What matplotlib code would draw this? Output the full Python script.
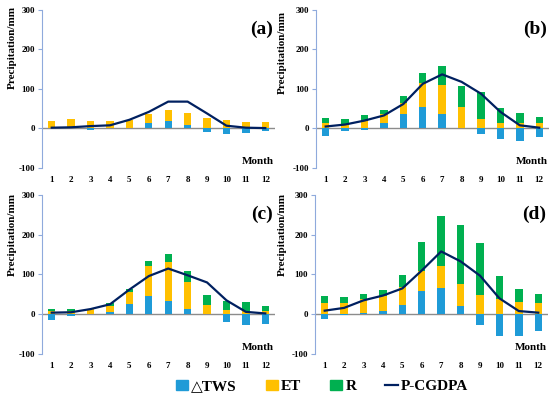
import numpy as np
import matplotlib
matplotlib.use('Agg')
from matplotlib import pyplot as plt
from matplotlib.patches import Patch
from matplotlib.lines import Line2D

plt.rcParams['font.family'] = ['Liberation Serif', 'DejaVu Serif']
plt.rcParams['font.weight'] = 'bold'
plt.rcParams['axes.unicode_minus'] = False

months = np.arange(1, 13)
month_labels = [str(m) for m in months]
panels = ['(a)', '(b)', '(c)', '(d)']

# delta TWS, ET, R and P-CGDPA for each panel
tws_a = [1, 0, -3, 0, 1, 15, 18, 10, -9, -14, -11, -7]
et_a = [19, 25, 19, 18, 20, 22, 28, 29, 27, 22, 17, 17]
r_a = [0, 0, 0, 0, 0, 0, 0, 0, 0, 0, 0, 0]
p_a = [2, 3, 6, 8, 22, 42, 68, 68, 38, 7, 2, 1]

tws_b = [-19, -7, -3, 13, 37, 55, 37, 2, -15, -26, -31, -22]
et_b = [14, 12, 18, 24, 28, 59, 73, 52, 23, 15, 15, 14]
r_b = [13, 13, 15, 10, 16, 27, 47, 53, 70, 38, 24, 15]
p_b = [5, 10, 20, 33, 62, 113, 137, 118, 88, 42, 8, 2]

tws_c = [-15, -5, 0, 5, 26, 47, 34, 12, 1, -20, -27, -24]
et_c = [9, 7, 12, 16, 29, 75, 97, 68, 21, 11, 9, 9]
r_c = [5, 5, 2, 8, 9, 11, 20, 30, 26, 22, 22, 11]
p_c = [4, 5, 13, 25, 62, 96, 115, 98, 80, 35, 6, 2]

tws_d = [-13, -3, 2, 9, 24, 59, 65, 20, -26, -55, -54, -43]
et_d = [28, 29, 36, 36, 45, 49, 57, 57, 48, 39, 32, 28]
r_d = [17, 15, 13, 16, 30, 74, 126, 148, 131, 57, 32, 23]
p_d = [9, 16, 35, 47, 65, 110, 158, 133, 97, 40, 8, 4]

data = [(tws_a, et_a, r_a, p_a), (tws_b, et_b, r_b, p_b),
        (tws_c, et_c, r_c, p_c), (tws_d, et_d, r_d, p_d)]

c_tws = '#1f9bd7'
c_et = '#ffc000'
c_r = '#00b050'
c_p = '#002060'

fig = plt.figure(figsize=(5.5, 3.99), dpi=100)
boxes = [[0.0764, 0.579, 0.4236, 0.396], [0.5745, 0.579, 0.4236, 0.396],
         [0.0764, 0.1128, 0.4236, 0.3985], [0.5727, 0.1128, 0.4236, 0.3985]]
label_pos = [(-0.11, 0.76), (-0.125, 0.73), (-0.11, 0.75), (-0.12, 0.75)]

w = 0.38
for k, (tws, et, r, p) in enumerate(data):
    ax = fig.add_axes(boxes[k])
    tws = np.array(tws, float)
    et = np.array(et, float)
    r = np.array(r, float)
    base = np.clip(tws, 0, None)
    ax.bar(months, tws, w, color=c_tws, zorder=2)
    ax.bar(months, et, w, bottom=base, color=c_et, zorder=2)
    ax.bar(months, r, w, bottom=base + et, color=c_r, zorder=2)
    ax.axhline(0, color='#8c8c8c', lw=1, zorder=1)
    ax.plot(months, p, color=c_p, lw=1.6, zorder=3)
    ax.set_xlim(0.5, 12.5)
    ax.set_ylim(-100, 300)
    ax.set_yticks([-100, 0, 100, 200, 300])
    ax.set_xticks(months)
    ax.set_xticklabels(month_labels)
    for s in ['top', 'right', 'bottom']:
        ax.spines[s].set_visible(False)
    ax.spines['left'].set_color('#8faadc')
    ax.tick_params(axis='y', length=3, color='#8faadc', labelsize=6.5, pad=2)
    ax.tick_params(axis='x', length=0, labelsize=6.5, pad=6)
    ax.set_ylabel('Precipitation/mm', fontsize=8, fontweight='bold')
    ax.yaxis.set_label_coords(*label_pos[k])
    ax.text(0.99, 0.93, panels[k], transform=ax.transAxes, ha='right', va='top',
            fontsize=14, fontweight='bold')
    ax.text(0.995, 0.015, 'Month', transform=ax.transAxes, ha='right', va='bottom',
            fontsize=8, fontweight='bold')
    ax.patch.set_visible(False)

handles = [Patch(color=c_tws, label='△TWS'), Patch(color=c_et, label='ET'),
           Patch(color=c_r, label='R'), Line2D([], [], color=c_p, lw=1.6, label='P-CGDPA')]
fig.legend(handles=handles, loc='lower center', bbox_to_anchor=(0.585, -0.02), ncol=4,
           frameon=False, prop={'size': 11, 'weight': 'bold'},
           handlelength=0.8, handleheight=0.7, handletextpad=0.2, columnspacing=1.9)

fig.savefig('out.png', dpi=100)
